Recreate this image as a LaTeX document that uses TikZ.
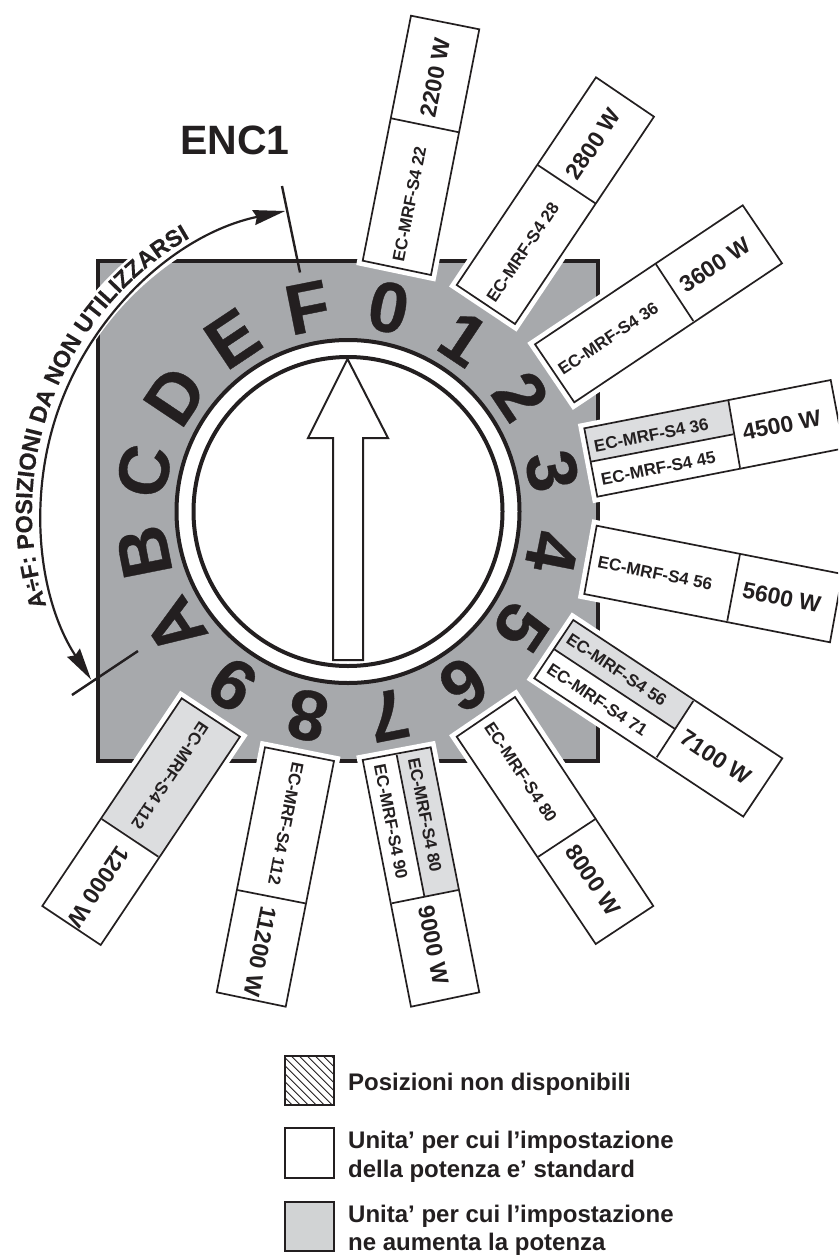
\documentclass[tikz,border=0pt]{standalone}
\usepackage{fontspec}
\setmainfont{Liberation Sans}
\usetikzlibrary{arrows.meta,decorations.text}
\definecolor{ink}{HTML}{231F20}
\definecolor{dialgrey}{HTML}{A7A9AC}
\definecolor{cellgrey}{HTML}{DCDDDF}
\definecolor{keygrey}{HTML}{D1D3D4}
\newfontfamily\dialfont[FakeBold=0.5]{Liberation Sans Bold}
\newfontfamily\arcfam[FakeBold=0.2]{Liberation Sans Bold}
\newcommand{\fs}[1]{\fontsize{#1}{#1}\selectfont\bfseries}
\newcommand{\arcfont}{\fontsize{23.5}{23.5}\arcfam\selectfont}
\tikzset{
  halo/.style={draw=white,line width=11pt,line join=miter,fill=white},
  cell/.style={draw=ink,line width=1.7pt,line join=miter},
  rule/.style={draw=ink,line width=1.7pt},
  eclabel/.style={text=ink,inner sep=0pt,font=\fs{17}},
  vallabel/.style={text=ink,inner sep=0pt,font=\fs{23}},
  dialchar/.style={text=ink,inner sep=0pt,font=\fontsize{71}{71}\dialfont\selectfont},
  keytext/.style={text=ink,inner sep=0pt,anchor=base west,font=\fs{24}},
  keybox/.style={draw=ink,line width=1.8pt},
  tick/.style={draw=ink,line width=2.4pt},
  ring/.style={draw=ink,line width=4pt,fill=white},
  rangearc/.style={draw=ink,line width=2.2pt,{Stealth[length=32pt,width=15pt,inset=3pt]}-{Stealth[length=32pt,width=15pt,inset=3pt]}}
}
\newcommand{\plate}[4]{%
  \fill[halo] #1 -- #2 -- #3 -- #4 -- cycle;
  \fill[white] #1 -- #2 -- #3 -- #4 -- cycle;
}
\newcommand{\outline}[4]{\draw[cell] #1 -- #2 -- #3 -- #4 -- cycle;}
\begin{document}
\begin{tikzpicture}[x=1pt,y=-1pt]
\useasboundingbox (0,0) rectangle (838,1255);
\clip (0,0) rectangle (838,1255);
\coordinate (c) at (348,511.5);

% square
\filldraw[fill=dialgrey,draw=ink,line width=4.5pt,line join=miter] (98,261) rectangle (598,761);
% white band carrying the range label
\draw[white,line width=30pt] (292.4,196.4) arc[start angle=100,end angle=180,radius=320pt];

% dial
\draw[ring] (c) circle[radius=171.5pt];
\draw[ring] (c) circle[radius=154.5pt];
\draw[ink,line width=2pt,fill=white,line join=miter]
  (347.5,359) -- (388,438) -- (363,438) -- (363,660) -- (333,660) -- (333,438) -- (308,438) -- cycle;

% dial characters
\foreach \ch/\ang [count=\k] in {0/11.25,1/33.75,2/56.25,3/78.75,4/101.25,5/123.75,6/146.25,7/168.75,8/191.25,9/213.75,A/236.25,B/258.75,C/281.25,D/303.75,E/326.25,F/348.75}{
  \node[dialchar,rotate=-\ang] (ch\k) at ({348+208*sin(\ang)},{511.5-208*cos(\ang)}) {\ch};
}

% plates: halos first
\plate{(411,15.7)}{(479.3,29.3)}{(431,275)}{(362.7,260.7)}
\plate{(596,77.3)}{(654,116.7)}{(515,324)}{(456.7,285)}
\plate{(742.7,205.3)}{(782,263.3)}{(574.3,402.3)}{(535,344.3)}
\plate{(584.3,428.3)}{(830.7,380)}{(843.7,448.4)}{(597.3,496.7)}
\plate{(596.7,525.7)}{(842.4,574)}{(830,642.3)}{(584.3,594)}
\plate{(573.3,620)}{(782.3,758.3)}{(743.3,816.6)}{(534.3,678.3)}
\plate{(515,697)}{(653.3,906)}{(595.7,944)}{(456.7,736.7)}
\plate{(362.7,760)}{(430.7,747.3)}{(479.3,992.3)}{(411,1006.7)}
\plate{(265,747.3)}{(334,761)}{(285.7,1006.7)}{(216.7,992.3)}
\plate{(181.7,698.3)}{(240,736.7)}{(100.7,945)}{(42.3,906)}

% grey cells
\fill[cellgrey] (584.3,428.3) -- (728.3,400) -- (733.3,434.3) -- (590.7,461.7) -- cycle;
\fill[cellgrey] (573.3,620) -- (693.3,701) -- (675,729) -- (554.3,649.3) -- cycle;
\fill[cellgrey] (396.7,755) -- (430.7,747.3) -- (458.3,890) -- (424.3,896) -- cycle;
\fill[cellgrey] (181.7,698.3) -- (240,736.7) -- (158.3,856.7) -- (101.7,819) -- cycle;

% plate outlines
\outline{(411,15.7)}{(479.3,29.3)}{(431,275)}{(362.7,260.7)}
\outline{(596,77.3)}{(654,116.7)}{(515,324)}{(456.7,285)}
\outline{(742.7,205.3)}{(782,263.3)}{(574.3,402.3)}{(535,344.3)}
\outline{(584.3,428.3)}{(830.7,380)}{(843.7,448.4)}{(597.3,496.7)}
\outline{(596.7,525.7)}{(842.4,574)}{(830,642.3)}{(584.3,594)}
\outline{(573.3,620)}{(782.3,758.3)}{(743.3,816.6)}{(534.3,678.3)}
\outline{(515,697)}{(653.3,906)}{(595.7,944)}{(456.7,736.7)}
\outline{(362.7,760)}{(430.7,747.3)}{(479.3,992.3)}{(411,1006.7)}
\outline{(265,747.3)}{(334,761)}{(285.7,1006.7)}{(216.7,992.3)}
\outline{(181.7,698.3)}{(240,736.7)}{(100.7,945)}{(42.3,906)}

% dividers
\draw[rule] (391,118.3) -- (459,132.3);
\draw[rule] (537.7,165) -- (595.3,203.3);
\draw[rule] (656,264.3) -- (693.3,321);
\draw[rule] (728.3,400) -- (740,467.7);
\draw[rule] (590.7,461.7) -- (733.3,434.3);
\draw[rule] (740,554) -- (727.3,620.7);
\draw[rule] (693.3,701) -- (656.7,757.3);
\draw[rule] (554.3,649.3) -- (675,729);
\draw[rule] (595,819.3) -- (538.3,856.7);
\draw[rule] (391.7,903.3) -- (458.3,890);
\draw[rule] (396.7,755) -- (424.3,896);
\draw[rule] (237.3,890) -- (305,903.3);
\draw[rule] (101.7,819) -- (158.3,856.7);

% plate labels
\node[eclabel,rotate=78.8] (e0) at (409.5,204) {EC-MRF-S4 22};
\node[vallabel,rotate=78.8] (v0) at (435,78) {2200 W};
\node[eclabel,rotate=56.2] (e1) at (522.7,252.3) {EC-MRF-S4 28};
\node[vallabel,rotate=56.2] (v1) at (593.3,144) {2800 W};
\node[eclabel,rotate=33.7] (e2) at (608.3,338.3) {EC-MRF-S4 36};
\node[vallabel,rotate=33.7] (v2) at (715,265) {3600 W};
\node[eclabel,rotate=11.2] (e3a) at (651.3,435) {EC-MRF-S4 36};
\node[eclabel,rotate=11.2] (e3b) at (658.3,468.3) {EC-MRF-S4 45};
\node[vallabel,rotate=11.2] (v3) at (781.7,425) {4500 W};
\node[eclabel,rotate=-11.2] (e4) at (655,573.3) {EC-MRF-S4 56};
\node[vallabel,rotate=-11.2] (v4) at (781.7,597.7) {5600 W};
\node[eclabel,rotate=-33.7] (e5a) at (616.7,670) {EC-MRF-S4 56};
\node[eclabel,rotate=-33.7] (e5b) at (597.3,700) {EC-MRF-S4 71};
\node[vallabel,rotate=-33.7] (v5) at (715.7,757.3) {7100 W};
\node[eclabel,rotate=-56.2] (e6) at (520.7,772.3) {EC-MRF-S4 80};
\node[vallabel,rotate=-56.2] (v6) at (593.3,880) {8000 W};
\node[eclabel,rotate=-78.8] (e7a) at (391,821.7) {EC-MRF-S4 90};
\node[eclabel,rotate=-78.8] (e7b) at (425,815) {EC-MRF-S4 80};
\node[vallabel,rotate=-78.8] (v7) at (433.3,945) {9000 W};
\node[eclabel,rotate=-101.2] (e8) at (286,823.3) {EC-MRF-S4 112};
\node[vallabel,rotate=-101.2] (v8) at (260,951.7) {11200 W};
\node[eclabel,rotate=-123.7] (e9) at (170,776) {EC-MRF-S4 112};
\node[vallabel,rotate=-123.7] (v9) at (98.3,886.7) {12000 W};

% title, ticks, range arc
\node[text=ink,inner sep=0pt,font=\fs{41}] (enc) at (235,140) {ENC1};
\coordinate (tickFa) at (282,186);
\coordinate (tickFb) at (300,272.5);
\coordinate (tickAa) at (72,695);
\coordinate (tickAb) at (138,651);
\draw[tick] (tickFa) -- (tickFb);
\draw[tick] (tickAa) -- (tickAb);
\coordinate (arcT) at (285.2,211);
\draw[rangearc] (arcT) arc[start angle=101.8,end angle=213.2,radius=307pt];
\path[decorate,decoration={text along path,text align=center,
  text={|\arcfont\color{ink}|A÷F: POSIZIONI DA NON UTILIZZARSI}}]
  (47,607.6) arc[start angle=197.7,end angle=119.7,radius=316pt];

% legend
\begin{scope}
  \clip (285,1055.7) rectangle (334,1105);
  \foreach \d in {-42,-34,...,50}{
    \draw[ink,line width=0.8pt] (285+\d,1055.7) -- ++(50,50);
  }
\end{scope}
\draw[keybox] (285,1055.7) rectangle (334,1105);
\draw[keybox,fill=white] (285,1128.3) rectangle (334,1178);
\draw[keybox,fill=keygrey] (285,1201.7) rectangle (334,1251);
\node[keytext] (k1) at (348,1090.7) {Posizioni non disponibili};
\node[keytext] (k2a) at (348,1148) {Unita’ per cui l’impostazione};
\node[keytext] (k2b) at (348,1177) {della potenza e’ standard};
\node[keytext] (k3a) at (348,1222.7) {Unita’ per cui l’impostazione};
\node[keytext] (k3b) at (348,1250.7) {ne aumenta la potenza};
\end{tikzpicture}
\end{document}
